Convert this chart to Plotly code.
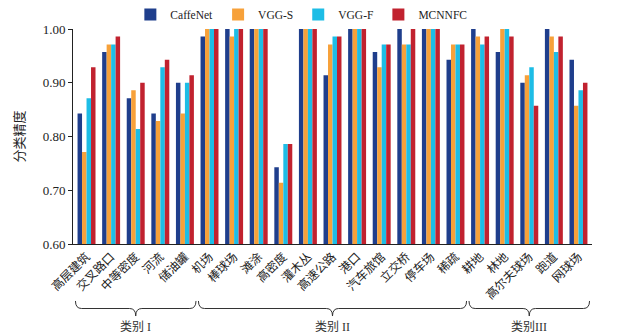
import plotly.graph_objects as go

# Scene categories, grouped into three classes
categories = ["高层建筑", "交叉路口", "中等密度", "河流", "储油罐",
              "机场", "棒球场", "滩涂", "高密度", "灌木丛", "高速公路",
              "港口", "汽车旅馆", "立交桥", "停车场", "稀疏",
              "耕地", "林地", "高尔夫球场", "跑道", "网球场"]

caffenet = [0.843, 0.957, 0.871, 0.843, 0.900,
            0.986, 1.000, 1.000, 0.743, 1.000, 0.914,
            1.000, 0.957, 1.000, 1.000, 0.943,
            1.000, 0.957, 0.900, 1.000, 0.943]
vgg_s = [0.771, 0.971, 0.886, 0.829, 0.843,
         1.000, 0.986, 1.000, 0.714, 1.000, 0.971,
         1.000, 0.929, 0.971, 1.000, 0.971,
         0.986, 1.000, 0.914, 0.986, 0.857]
vgg_f = [0.871, 0.971, 0.814, 0.929, 0.900,
         1.000, 1.000, 1.000, 0.786, 1.000, 0.986,
         1.000, 0.971, 0.971, 1.000, 0.971,
         0.971, 1.000, 0.929, 0.957, 0.886]
mcnnfc = [0.929, 0.986, 0.900, 0.943, 0.914,
          1.000, 1.000, 1.000, 0.786, 1.000, 0.986,
          1.000, 0.971, 1.000, 1.000, 0.971,
          0.986, 0.986, 0.857, 0.986, 0.900]

series_names = ["CaffeNet", "VGG-S", "VGG-F", "MCNNFC"]
series_values = [caffenet, vgg_s, vgg_f, mcnnfc]
colors = ["#1f3e8c", "#f7a13a", "#1dbde6", "#c1222f"]

# Class groups: (label, first index, last index)
groups = [("类别 I", 0, 4), ("类别 II", 5, 15), ("类别III", 16, 20)]

FONT = "Liberation Serif, Noto Sans CJK SC, serif"

fig = go.Figure()
for name, vals, col in zip(series_names, series_values, colors):
    fig.add_trace(go.Bar(x=list(range(len(categories))), y=vals, name=name,
                         marker=dict(color=col, line=dict(width=0))))

# Curly braces under each class group, plus the group label
brace_y = -0.30
depth = 0.035
for label, i0, i1 in groups:
    x0 = i0 - 0.45
    x1 = i1 + 0.45
    xm = (x0 + x1) / 2
    path = (f"M {x0},{brace_y + depth} Q {x0},{brace_y} {x0 + 0.25},{brace_y} "
            f"L {xm - 0.25},{brace_y} Q {xm},{brace_y} {xm},{brace_y - depth} "
            f"Q {xm},{brace_y} {xm + 0.25},{brace_y} "
            f"L {x1 - 0.25},{brace_y} Q {x1},{brace_y} {x1},{brace_y + depth}")
    fig.add_shape(type="path", path=path, xref="x", yref="paper",
                  line=dict(color="#333333", width=1))
    fig.add_annotation(x=xm, y=brace_y - 0.045, xref="x", yref="paper",
                       text=label, showarrow=False, yanchor="top",
                       font=dict(family=FONT, size=12, color="#333333"))

fig.update_layout(
    width=622, height=335,
    margin=dict(l=73, r=30, t=29, b=91, autoexpand=False),
    paper_bgcolor="white", plot_bgcolor="white",
    barmode="group", bargap=0.27, bargroupgap=0,
    font=dict(family=FONT, size=12, color="#222222"),
    legend=dict(orientation="h", x=0.44, xanchor="center", y=1.0, yanchor="bottom",
                font=dict(family=FONT, size=11.5), itemwidth=30,
                bgcolor="rgba(0,0,0,0)"),
    xaxis=dict(tickmode="array", tickvals=list(range(len(categories))),
               ticktext=categories, tickangle=-45,
               range=[-0.55, len(categories) - 0.45],
               showline=True, linecolor="#222222", linewidth=1,
               ticks="", showgrid=False, zeroline=False,
               tickfont=dict(family=FONT, size=12)),
    yaxis=dict(range=[0.6, 1.0], tickvals=[0.6, 0.7, 0.8, 0.9, 1.0],
               tickformat=".2f", showline=True, linecolor="#222222", linewidth=1,
               ticks="outside", ticklen=4, tickcolor="#222222",
               showgrid=False, zeroline=False,
               title=dict(text="分类精度", font=dict(family=FONT, size=13), standoff=15),
               tickfont=dict(family=FONT, size=13)),
)

fig.write_html("out.html")
